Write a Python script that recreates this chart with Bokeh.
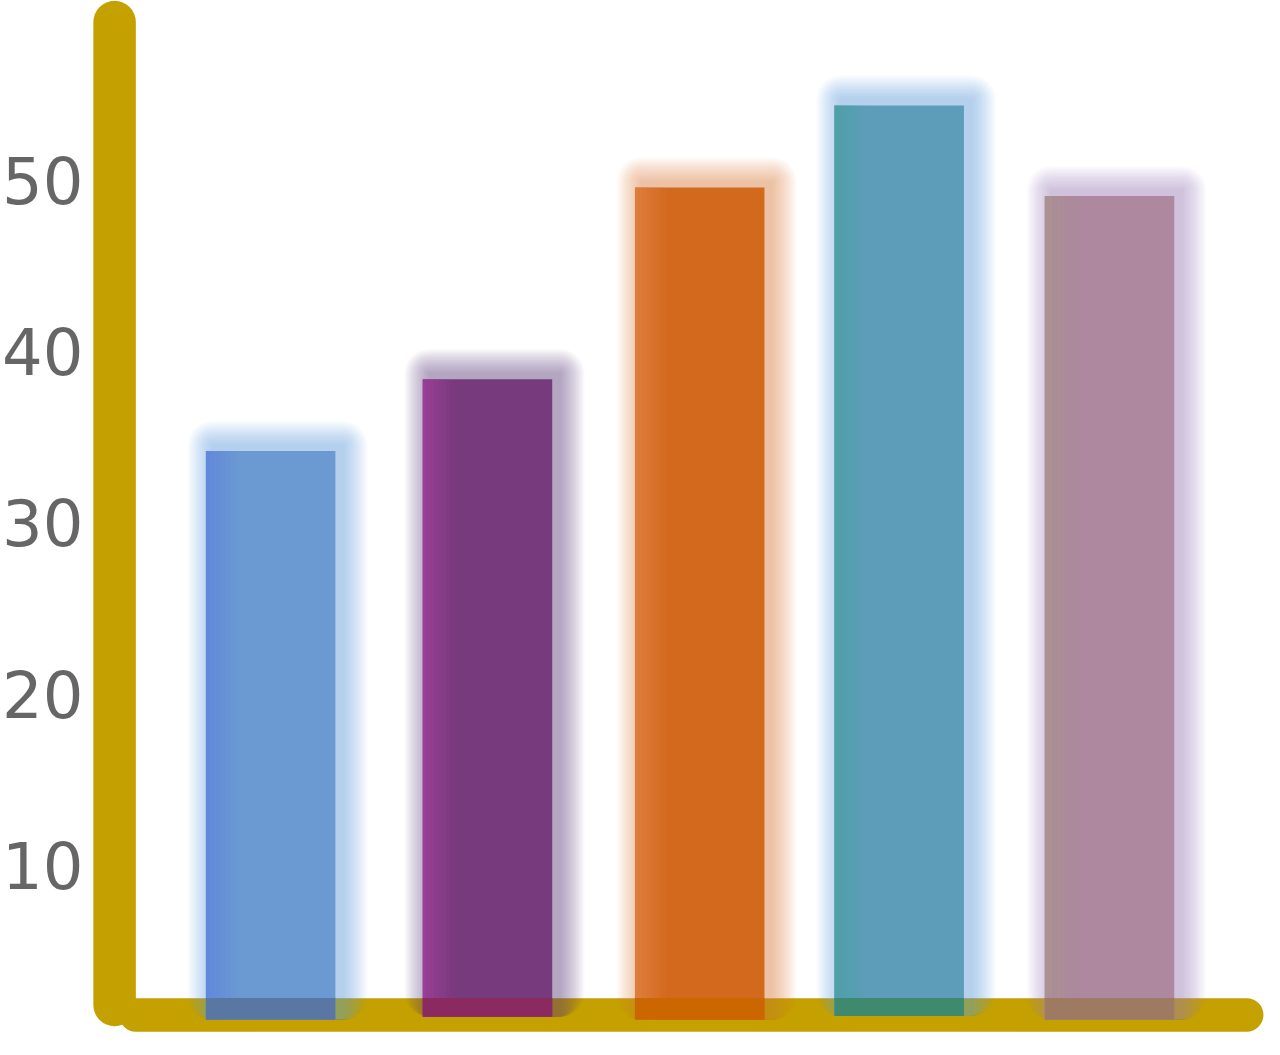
from bokeh.plotting import figure
from bokeh.models import Range1d
from bokeh.core.properties import value
from bokeh.embed import file_html
from bokeh.resources import INLINE

# Data
values = [34.2, 38.4, 49.6, 54.4, 49.1]
bottoms = [0.96, 1.14, 0.96, 1.19, 0.96]
positions = [1.0, 2.034, 3.046, 3.997, 5.0]
y_ticks = [10, 20, 30, 40, 50]

# Colours
bar_colors = ["#6B9AD2", "#773A7C", "#D3691D", "#5E9DBA", "#AD889F"]
edge_colors = ["#6187DC", "#9C409A", "#DE7F40", "#4CA0A4", "#AA9290"]
glow_colors = ["#5A90D8", "#6A4075", "#E07A30", "#5A90D0", "#A878B0"]
overlap_colors = ["#5A76A2", "#8A2A60", "#CC6600", "#3F8A6E", "#9E7A62"]
gold = "#C4A000"
text_gray = "#666666"

W, H = 1264, 1039
x0, x1 = -0.288, 5.739
y0, y1 = -0.187, 60.53
px_x = (x1 - x0) / W   # data units per screen pixel
px_y = (y1 - y0) / H
bar_w = 129.5 * px_x

p = figure(width=W, height=H, x_range=Range1d(x0, x1), y_range=Range1d(y0, y1),
           x_axis_type=None, y_axis_type=None, toolbar_location=None,
           output_backend="svg", min_border=0)
p.outline_line_color = None
p.background_fill_color = "white"
p.border_fill_color = "white"

# thick gold axes
axis_x = 0.256
axis_y = 1.25
p.line([axis_x, axis_x], [1.83, 59.27], line_width=42.5, line_color=gold, line_cap="round")
p.line([0.357, 5.654], [axis_y, axis_y], line_width=33.5, line_color=gold, line_cap="round")

# soft glow behind the bars, built from stacked translucent boxes
n_layers = 18
step = 1.4
off_x, off_y = 7 * px_x, 5 * px_y
for k in range(n_layers, 0, -1):
    grow_x = k * step * px_x
    grow_y = k * step * px_y
    p.quad(left=[x - bar_w / 2 - grow_x + off_x for x in positions],
           right=[x + bar_w / 2 + grow_x + off_x for x in positions],
           top=[v + grow_y + off_y for v in values],
           bottom=bottoms,
           fill_color=glow_colors, fill_alpha=0.032, line_color=None,
           border_radius=int(k * step))

# bars
p.vbar(x=positions, width=bar_w, top=values, bottom=bottoms,
       fill_color=bar_colors, line_color=None)

# different tint along the left edge of each bar
n_strips = 8
strip_w = 4 * px_x
for i in range(n_strips):
    p.vbar(x=[x - bar_w / 2 + (i + 0.5) * strip_w for x in positions],
           width=strip_w, top=values, bottom=bottoms,
           fill_color=edge_colors, fill_alpha=0.9 * (1 - i / n_strips), line_color=None)

# part of each bar lying over the gold axis
axis_top = axis_y + 17 * px_y
p.vbar(x=positions, width=bar_w, top=[axis_top] * len(positions), bottom=bottoms,
       fill_color=overlap_colors, line_color=None)

# y tick labels
label_x = x0 + 83 * px_x
p.text(x=[label_x] * len(y_ticks), y=y_ticks, text=[str(t) for t in y_ticks],
       text_align="right", text_baseline="middle", text_font_size="64px",
       text_font=value("DejaVu Sans"), text_color=text_gray)

open("out.html", "w").write(file_html(p, INLINE))
